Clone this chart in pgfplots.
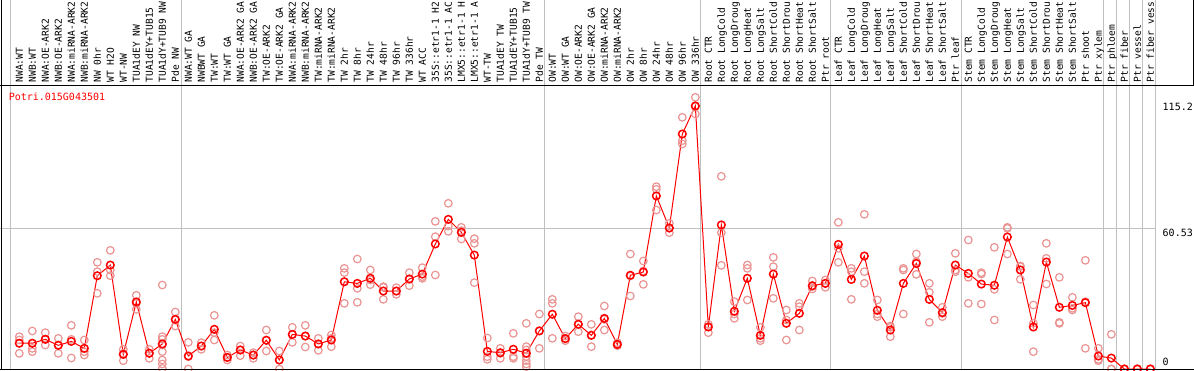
\documentclass[border=0pt]{standalone}
\usepackage{pgfplots}
\pgfplotsset{compat=1.18}
\usepackage{pgfplotstable}
\usepackage{fontspec}
\newfontfamily\mono{DejaVu Sans Mono}
\definecolor{rmean}{RGB}{255,0,0}
\definecolor{rrep}{RGB}{234,148,148}
\definecolor{gridc}{RGB}{192,192,192}

\pgfplotstableread{
x y
1 11.1
2 11.1
3 12.8
4 10.2
5 11.9
6 8.9
7 40.2
8 44.8
9 6.3
10 28.9
11 6.8
12 10.8
13 21.4
14 5.6
15 9.9
16 17.1
17 5.0
18 8.2
19 6.0
20 12.4
21 3.9
22 14.9
23 14.2
24 10.8
25 12.5
26 37.6
27 36.9
28 39.1
29 33.6
30 33.6
31 38.8
32 40.9
33 53.9
34 64.5
35 58.9
36 49.1
37 7.6
38 7.0
39 8.5
40 6.8
41 16.4
42 23.6
43 13.1
44 19.3
45 14.5
46 21.8
47 10.6
48 40.4
49 41.8
50 74.6
51 60.8
52 101.3
53 113.4
54 18.1
55 62.1
56 24.9
57 39.1
58 14.5
59 40.9
60 19.7
61 24.0
62 35.9
63 36.9
64 53.7
65 38.6
66 48.7
67 25.3
68 16.8
69 36.9
70 45.5
71 30.0
72 24.3
73 44.8
74 41.2
75 36.6
76 36.1
77 56.9
78 42.7
79 18.1
80 46.1
81 26.6
82 27.4
83 28.6
84 5.6
85 4.7
86 0
87 0
88 0
}\means

\pgfplotstableread{
x y
1 13.94
1 12.50
1 6.75
2 16.38
2 8.91
2 7.47
3 15.66
3 12.79
3 10.34
4 13.22
4 10.34
4 6.75
5 18.82
5 12.79
5 4.74
6 12.50
6 7.47
6 6.03
7 45.98
7 41.95
7 32.61
8 51.15
8 42.67
8 40.23
9 8.48
9 6.75
9 3.59
10 31.75
10 28.30
10 25.72
11 8.48
11 6.75
11 4.60
12 36.21
12 13.94
12 12.79
12 10.34
12 7.47
12 3.88
12 2.16
12 0.29
13 24.57
13 21.12
13 18.53
14 11.49
14 5.32
14 0.00
15 11.35
15 9.91
15 8.48
16 23.13
16 15.66
16 12.50
17 6.03
17 5.03
17 3.88
18 9.91
18 8.19
18 5.75
19 7.04
19 6.03
19 4.60
20 16.81
20 12.36
20 7.76
21 7.76
21 3.88
21 0.00
22 17.96
22 14.94
22 11.49
23 18.82
23 14.22
23 9.48
24 13.22
24 10.78
24 8.05
25 14.66
25 13.22
25 9.63
26 43.39
26 41.52
26 28.30
27 47.41
27 34.77
27 28.74
28 42.67
28 38.36
28 36.35
29 35.49
29 35.20
29 30.03
30 35.06
30 33.62
30 32.18
31 41.52
31 38.79
31 35.92
32 43.68
32 39.80
32 39.08
33 63.65
33 57.04
33 40.52
34 71.41
34 61.64
34 59.34
35 61.06
35 59.63
35 56.03
36 56.18
36 54.17
36 37.21
37 13.36
37 5.32
37 4.17
38 8.91
38 6.75
38 4.60
39 15.37
39 5.32
39 4.60
40 19.68
40 9.63
40 8.19
40 6.75
40 5.32
40 3.59
40 2.16
40 1.01
41 23.71
41 16.52
41 8.91
42 30.03
42 28.30
42 13.22
43 14.22
43 13.22
43 12.21
44 22.56
44 19.11
44 16.09
45 19.25
45 14.66
45 9.63
46 27.16
46 21.41
46 16.81
47 11.35
47 10.63
47 10.06
48 49.57
48 40.09
48 31.47
49 46.55
49 42.24
49 36.49
50 78.59
50 77.44
50 68.53
51 62.79
51 60.63
51 58.76
52 108.48
52 98.42
52 96.98
53 117.10
53 113.07
53 109.91
54 19.25
54 18.25
54 15.66
55 83.05
55 58.76
55 44.68
56 29.02
56 23.71
56 21.84
57 44.83
57 43.39
57 29.74
58 17.96
58 13.22
58 12.21
59 48.13
59 44.11
59 30.46
60 25.43
60 21.12
60 12.50
61 28.30
61 26.87
61 16.81
62 37.93
62 35.49
62 34.48
63 38.36
63 36.93
63 35.20
64 63.22
64 52.01
64 45.98
65 43.39
65 41.95
65 30.03
66 66.67
66 41.95
66 36.93
67 29.74
67 23.71
67 22.56
68 18.53
68 17.96
68 13.94
69 43.39
69 42.67
69 23.71
70 49.57
70 46.26
70 40.80
71 36.93
71 33.05
71 20.11
72 26.58
72 23.99
72 22.56
73 49.86
73 42.67
73 41.95
74 55.60
74 39.51
74 28.30
75 41.52
75 40.95
75 28.02
76 52.44
76 34.34
76 21.12
77 61.06
77 60.63
77 49.57
78 44.40
78 44.11
78 38.65
79 27.59
79 19.68
79 7.47
80 54.17
80 47.70
80 36.64
81 39.51
81 20.11
81 19.68
82 30.89
82 26.15
82 25.43
83 46.84
83 29.02
83 8.91
84 8.91
84 4.17
84 3.59
85 14.94
85 0.00
85 0.00
86 0
86 0
86 0
87 0
87 0
87 0
88 0
88 0
88 0
}\reps

\begin{document}
\begin{tikzpicture}
\useasboundingbox (0pt,0pt) rectangle (1194pt,370pt);
\clip (0pt,0pt) rectangle (1194pt,370pt);
% grid lines
\foreach \gx in {10.7,181.7,544.5,700.7,830.7,961.0,1103.3,1116.3,1129.3,1142.3,1155.3}
  \draw[gridc, line width=1pt] (\gx pt,0pt) -- (\gx pt,370pt);
\draw[gridc, line width=1pt] (0pt,141.4pt) -- (1156pt,141.4pt);
\begin{axis}[
  at={(0pt,0pt)}, anchor=south west,
  scale only axis, width=1194pt, height=370pt,
  xmin=-0.484615, xmax=91.361538,
  ymin=-0.431034, ymax=159.051724,
  hide axis, clip=false,
]
\addplot[only marks, mark=o, mark size=3.8pt, draw=rrep, line width=1.2pt] table {\reps};
\addplot[rmean, line width=1pt, mark=o, mark size=3.8pt, mark options={line width=1.5pt, draw=rmean, fill=none}] table {\means};
\end{axis}
% frame lines
\draw[black, line width=1pt] (1pt,0pt) -- (1pt,370pt);
\draw[black, line width=1pt] (0pt,0.5pt) -- (1194pt,0.5pt);
\draw[black, line width=1pt] (0pt,284.5pt) -- (1194pt,284.5pt);
\draw[black, line width=1pt] (1193.5pt,284.5pt) -- (1193.5pt,370pt);
% column labels (shown truncated to 14 characters, as in the reference)
\foreach \lab [count=\i] in {NWA:WT, NWB:WT, NWA:OE-ARK2, NWB:OE-ARK2, NWA:miRNA-ARK2, NWB:miRNA-ARK2, NW 0hr, WT H2O, WT-NW, TUA1dEY NW, TUA1dEY+TUB15, TUA1dY+TUB9 NW, Pde NW,
  NWA:WT GA, NWBWT GA, TW:WT, TW:WT GA, NWA:OE-ARK2 GA, NWB:OE-ARK2 GA, TW:OE-ARK2, TW:OE-ARK2 GA, NWA:miRNA-ARK2, NWB:miRNA-ARK2, TW:miRNA-ARK2, TW:miRNA-ARK2, TW 2hr, TW 8hr, TW 24hr, TW 48hr, TW 96hr, TW 336hr, WT ACC, 35S::etr1-1 H2, 35S::etr1-1 AC, LMX5::etr1-1 H, LMX5::etr1-1 A, WT-TW, TUA1dEY TW, TUA1dEY+TUB15, TUA1dY+TUB9 TW, Pde TW,
  OW:WT, OW:WT GA, OW:OE-ARK2, OW:OE-ARK2 GA, OW:miRNA-ARK2, OW:miRNA-ARK2, OW 2hr, OW 8hr, OW 24hr, OW 48hr, OW 96hr, OW 336hr,
  Root CTR, Root LongCold, Root LongDroug, Root LongHeat, Root LongSalt, Root ShortCold, Root ShortDrou, Root ShortHeat, Root ShortSalt, Ptr root,
  Leaf CTR, Leaf LongCold, Leaf LongDroug, Leaf LongHeat, Leaf LongSalt, Leaf ShortCold, Leaf ShortDrou, Leaf ShortHeat, Leaf ShortSalt, Ptr leaf,
  Stem CTR, Stem LongCold, Stem LongDroug, Stem LongHeat, Stem LongSalt, Stem ShortCold, Stem ShortDrou, Stem ShortHeat, Stem ShortSalt, Ptr shoot,
  Ptr xylem, Ptr phloem, Ptr fiber, Ptr vessel, Ptr fiber vess}
  \node[rotate=90, anchor=west, inner sep=0pt, text height=7pt, text depth=0pt,
        font=\mono\fontsize{9.6}{10}\selectfont] at ({6.3pt+13pt*\i}, 287.3pt) {\lab};
% title and y labels
\node[anchor=base west, inner sep=0pt, text=rmean, font=\mono\fontsize{10}{12}\selectfont] at (8.6pt,269.3pt) {Potri.015G043501};
\node[anchor=base west, inner sep=0pt, font=\mono\fontsize{10}{12}\selectfont] at (1162.5pt,259.3pt) {115.2};
\node[anchor=base west, inner sep=0pt, font=\mono\fontsize{10}{12}\selectfont] at (1162.5pt,134pt) {60.53};
\node[anchor=base west, inner sep=0pt, font=\mono\fontsize{10}{12}\selectfont] at (1162.5pt,4.7pt) {0};
\end{tikzpicture}
\end{document}
